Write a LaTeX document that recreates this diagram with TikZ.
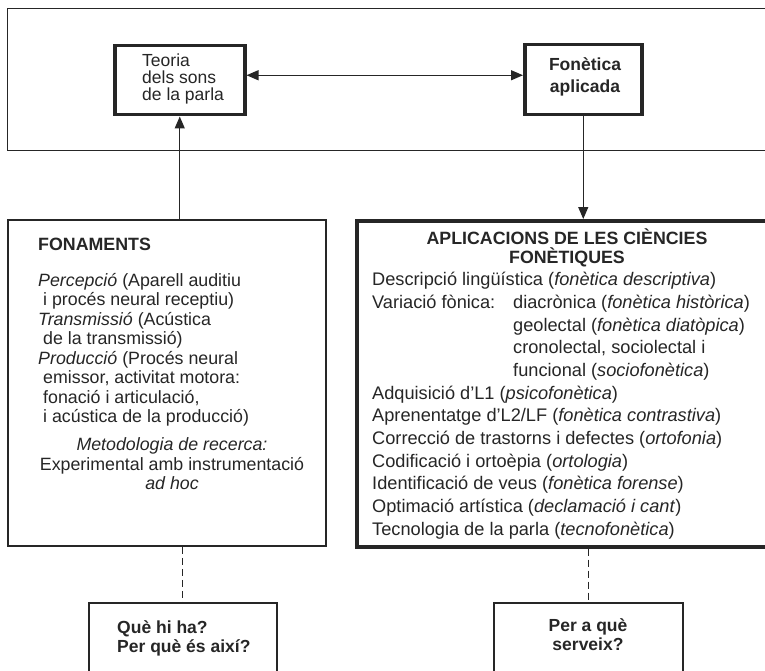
\documentclass[tikz,border=0pt]{standalone}
\usepackage{fontspec}
\setmainfont{Liberation Sans}
\usetikzlibrary{arrows.meta}
\definecolor{ink}{HTML}{262626}
\begin{document}
\begin{tikzpicture}[x=1pt,y=-1pt,
  every node/.style={inner sep=0pt, text=ink},
  body/.style={font=\fontsize{18.2}{22.7}\selectfont},
  lbody/.style={font=\fontsize{17.8}{19.5}\selectfont},
  hd/.style={font=\bfseries\fontsize{17.8}{18}\selectfont},
  heavybox/.style={draw=ink, line width=3.5pt},
  lightbox/.style={draw=ink, line width=1.8pt},
  conn/.style={draw=ink, line width=1.2pt},
  tip/.style={-{Triangle[length=12pt,width=10pt]}},
  dashconn/.style={draw=ink, line width=1.2pt, dash pattern=on 7pt off 4pt}]
\useasboundingbox (0,0) rectangle (765,671);
\fill[white] (0,0) rectangle (765,671);
% outer frame
\node[draw=ink, line width=1.3pt, minimum width=800pt, minimum height=142pt, anchor=north west] (frame) at (7,8) {};
% top boxes
\node[heavybox, minimum width=130pt, minimum height=69pt, anchor=north west] (teoria) at (113,44) {};
\node[font=\fontsize{17.5}{17}\selectfont, align=left, anchor=west] (teoriatxt) at (142,79) {Teoria\\dels sons\\de la parla};
\node[heavybox, minimum width=117pt, minimum height=70pt, anchor=north west] (fonetica) at (523,43) {};
\node[hd, font=\bfseries\fontsize{17.5}{22}\selectfont, align=center] (fonetxt) at (585,77) {Fonètica\\aplicada};
\draw[conn, {Triangle[length=12pt,width=10pt]}-{Triangle[length=12pt,width=10pt]}] ([yshift=5pt]teoria.east) -- ([yshift=5pt]teoria.east -| fonetica.west);
% big boxes
\node[lightbox, minimum width=318pt, minimum height=326pt, anchor=north west] (fona) at (7,219) {};
\node[heavybox, minimum width=445pt, minimum height=326pt, anchor=north west] (apl) at (355,219) {};
\draw[conn, tip] (fona.north -| teoria.south) -- (teoria.south);
\draw[conn, tip] (fonetica.south) -- (fonetica.south |- apl.north);
% left text
\node[hd, anchor=base west] (fonahd) at (38,250) {FONAMENTS};
\node[lbody, align=left, anchor=north west] (fonatxt) at (38,273) {\textit{Percepció} (Aparell auditiu\\
\hspace*{5pt}i procés neural receptiu)\\
\textit{Transmissió} (Acústica\\
\hspace*{5pt}de la transmissió)\\
\textit{Producció} (Procés neural\\
\hspace*{5pt}emissor, activitat motora:\\
\hspace*{5pt}fonació i articulació,\\
\hspace*{5pt}i acústica de la producció)};
\node[lbody, align=center] (meto) at (172,464) {\textit{Metodologia de recerca:}\\Experimental amb instrumentació\\\textit{ad hoc}};
% right text
\node[hd, font=\bfseries\fontsize{17.8}{19.5}\selectfont, align=center] (aplhd) at (567,248) {APLICACIONS DE LES CIÈNCIES\\FONÈTIQUES};
\node[body, align=left, anchor=north west] (apltxt) at (372,272) {Descripció lingüística (\textit{fonètica descriptiva})\\
\makebox[141pt][l]{Variació fònica:}diacrònica (\textit{fonètica històrica})\\
\hspace*{141pt}geolectal (\textit{fonètica diatòpica})\\
\hspace*{141pt}cronolectal, sociolectal i\\
\hspace*{141pt}funcional (\textit{sociofonètica})\\
Adquisició d’L1 (\textit{psicofonètica})\\
Aprenentatge d’L2/LF (\textit{fonètica contrastiva})\\
Correcció de trastorns i defectes (\textit{ortofonia})\\
Codificació i ortoèpia (\textit{ortologia})\\
Identificació de veus (\textit{fonètica forense})\\
Optimació artística (\textit{declamació i cant})\\
Tecnologia de la parla (\textit{tecnofonètica})};
% bottom boxes
\node[lightbox, line width=1.5pt, minimum width=188pt, minimum height=100pt, anchor=north west] (que) at (88,602) {};
\node[lightbox, line width=1.5pt, minimum width=189pt, minimum height=100pt, anchor=north west] (per) at (493,602) {};
\draw[dashconn] (que.north |- fona.south) -- (que.north);
\draw[dashconn] (per.north |- apl.south) -- (per.north);
\node[hd, font=\bfseries\fontsize{17.5}{19}\selectfont, align=left, anchor=west] (quetxt) at (117,638) {Què hi ha?\\Per què és així?};
\node[hd, font=\bfseries\fontsize{17.5}{19}\selectfont, align=center] (pertxt) at (588,635) {Per a què\\serveix?};
\end{tikzpicture}
\end{document}
